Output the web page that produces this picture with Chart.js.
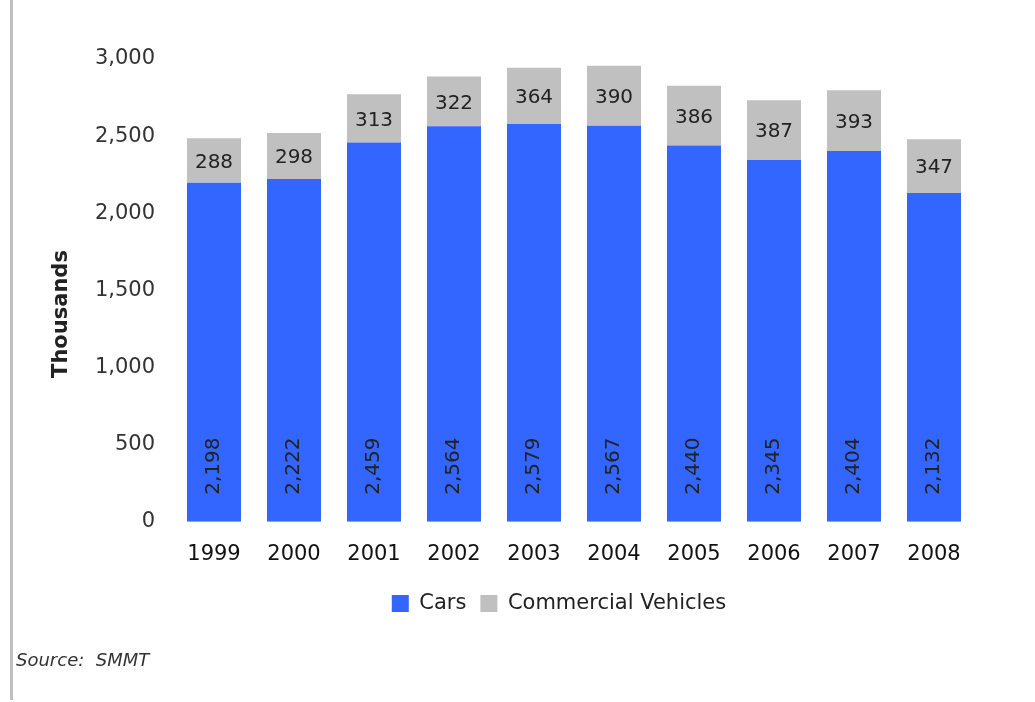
<!DOCTYPE html>
<html>
<head>
<meta charset="utf-8">
<script src="https://cdn.jsdelivr.net/npm/chart.js@4"></script>
<style>
  html, body { margin: 0; padding: 0; background: #fff; }
  #wrap { position: relative; width: 1035px; height: 702px; }
  #edge { position: absolute; left: 10px; top: 0; width: 3px; height: 700px; background: #c0c0c0; }
  #source { position: absolute; left: 16px; top: 649px; font: italic 18px "DejaVu Sans", Verdana, sans-serif; color: #333; }
  canvas { position: absolute; left: 0; top: 0; }
</style>
</head>
<body>
<div id="wrap">
  <canvas id="chart" width="1035" height="702"></canvas>
  <div id="edge"></div>
  <div id="source">Source:&nbsp; SMMT</div>
</div>
<script>
const years = ['1999', '2000', '2001', '2002', '2003', '2004', '2005', '2006', '2007', '2008'];
const cars = [2198, 2222, 2459, 2564, 2579, 2567, 2440, 2345, 2404, 2132];
const commercial = [288, 298, 313, 322, 364, 390, 386, 387, 393, 347];
const yTicks = [0, 500, 1000, 1500, 2000, 2500, 3000];

const FONT = '"DejaVu Sans", Verdana, sans-serif';

// labels inside the bars: rotated for cars, centred for commercial vehicles
const barLabels = {
    id: 'barLabels',
    afterLayout(chart) {
        // legend sits a bit right of the canvas centre in the original
        chart.legend.left += 47;
        chart.legend.right += 47;
    },
    afterDatasetsDraw(chart) {
        const ctx = chart.ctx;
        ctx.save();
        ctx.fillStyle = '#222';
        ctx.font = '20px ' + FONT;
        chart.data.datasets.forEach(function (ds, di) {
            const meta = chart.getDatasetMeta(di);
            meta.data.forEach(function (bar, i) {
                const txt = ds.data[i].toLocaleString('en-US');
                if (di === 0) {
                    ctx.save();
                    ctx.translate(bar.x, bar.base - 27);
                    ctx.rotate(-Math.PI / 2);
                    ctx.textAlign = 'left';
                    ctx.textBaseline = 'middle';
                    ctx.fillText(txt, 0, 0);
                    ctx.restore();
                } else {
                    ctx.textAlign = 'center';
                    ctx.textBaseline = 'middle';
                    ctx.fillText(txt, bar.x, (bar.y + bar.base) / 2 + 2);
                }
            });
        });
        // y axis title
        ctx.save();
        ctx.translate(62, 314);
        ctx.rotate(-Math.PI / 2);
        ctx.font = 'bold 21px ' + FONT;
        ctx.textAlign = 'center';
        ctx.textBaseline = 'middle';
        ctx.fillText('Thousands', 0, 0);
        ctx.restore();
        ctx.restore();
    }
};

new Chart(document.getElementById('chart').getContext('2d'), {
    type: 'bar',
    data: {
        labels: years,
        datasets: [{
            label: 'Cars',
            data: cars,
            backgroundColor: '#3366ff',
            categoryPercentage: 1,
            barPercentage: 0.675
        }, {
            label: 'Commercial Vehicles',
            data: commercial,
            backgroundColor: '#c0c0c0',
            categoryPercentage: 1,
            barPercentage: 0.675
        }]
    },
    options: {
        responsive: false,
        animation: false,
        layout: { padding: { left: 50, right: 61, top: 59, bottom: 78 } },
        plugins: {
            tooltip: { enabled: false },
            legend: {
                position: 'bottom',
                labels: {
                    font: { family: FONT, size: 21 },
                    color: '#222',
                    boxWidth: 17,
                    boxHeight: 17,
                    padding: 14
                }
            }
        },
        scales: {
            x: {
                stacked: true,
                grid: { display: false },
                border: { display: false },
                ticks: { font: { family: FONT, size: 21 }, color: '#111', padding: 12 }
            },
            y: {
                stacked: true,
                min: 0,
                max: 3000,
                afterBuildTicks(axis) {
                    axis.ticks = yTicks.map(function (v) { return { value: v }; });
                },
                afterFit(axis) { axis.width = 124; },
                grid: { display: false },
                border: { display: false },
                ticks: {
                    font: { family: FONT, size: 21 },
                    color: '#333',
                    padding: 11,
                    callback: function (v) { return v.toLocaleString('en-US'); }
                }
            }
        }
    },
    plugins: [barLabels]
});
</script>
</body>
</html>
